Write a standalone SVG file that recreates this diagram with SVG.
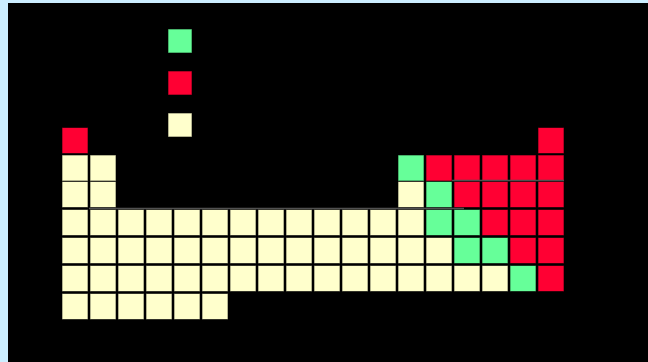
<svg xmlns="http://www.w3.org/2000/svg" width="648" height="362" viewBox="0 0 648 362">
<style>
.c{stroke:#000;stroke-opacity:0.6;stroke-width:1}
.y{fill:#ffffcc}
.r{fill:#ff0033}
.g{fill:#66ff99}
.sep{stroke:#505050;stroke-width:1.6;fill:none}
</style>
<defs>
<rect id="cell" width="26" height="26"/>
</defs>
<rect x="0" y="0" width="648" height="362" fill="#cceeff"/>
<rect x="8" y="3" width="640" height="359" fill="#000"/>
<g id="legend">
<rect class="c g" x="168" y="29" width="24" height="24"/>
<rect class="c r" x="168" y="71" width="24" height="24"/>
<rect class="c y" x="168" y="113" width="24" height="24"/>
</g>
<g id="row1">
<use href="#cell" class="c r" x="62" y="127.5"/>
<use href="#cell" class="c r" x="538" y="127.5"/>
</g>
<g id="row2">
<use href="#cell" class="c y" x="62" y="155"/>
<use href="#cell" class="c y" x="90" y="155"/>
<use href="#cell" class="c g" x="398" y="155"/>
<use href="#cell" class="c r" x="426" y="155"/>
<use href="#cell" class="c r" x="454" y="155"/>
<use href="#cell" class="c r" x="482" y="155"/>
<use href="#cell" class="c r" x="510" y="155"/>
<use href="#cell" class="c r" x="538" y="155"/>
</g>
<g id="row3">
<use href="#cell" class="c y" x="62" y="181.5"/>
<use href="#cell" class="c y" x="90" y="181.5"/>
<use href="#cell" class="c y" x="398" y="181.5"/>
<use href="#cell" class="c g" x="426" y="181.5"/>
<use href="#cell" class="c r" x="454" y="181.5"/>
<use href="#cell" class="c r" x="482" y="181.5"/>
<use href="#cell" class="c r" x="510" y="181.5"/>
<use href="#cell" class="c r" x="538" y="181.5"/>
</g>
<g id="row4">
<use href="#cell" class="c y" x="62" y="209.5"/>
<use href="#cell" class="c y" x="90" y="209.5"/>
<use href="#cell" class="c y" x="118" y="209.5"/>
<use href="#cell" class="c y" x="146" y="209.5"/>
<use href="#cell" class="c y" x="174" y="209.5"/>
<use href="#cell" class="c y" x="202" y="209.5"/>
<use href="#cell" class="c y" x="230" y="209.5"/>
<use href="#cell" class="c y" x="258" y="209.5"/>
<use href="#cell" class="c y" x="286" y="209.5"/>
<use href="#cell" class="c y" x="314" y="209.5"/>
<use href="#cell" class="c y" x="342" y="209.5"/>
<use href="#cell" class="c y" x="370" y="209.5"/>
<use href="#cell" class="c y" x="398" y="209.5"/>
<use href="#cell" class="c g" x="426" y="209.5"/>
<use href="#cell" class="c g" x="454" y="209.5"/>
<use href="#cell" class="c r" x="482" y="209.5"/>
<use href="#cell" class="c r" x="510" y="209.5"/>
<use href="#cell" class="c r" x="538" y="209.5"/>
</g>
<g id="row5">
<use href="#cell" class="c y" x="62" y="237.5"/>
<use href="#cell" class="c y" x="90" y="237.5"/>
<use href="#cell" class="c y" x="118" y="237.5"/>
<use href="#cell" class="c y" x="146" y="237.5"/>
<use href="#cell" class="c y" x="174" y="237.5"/>
<use href="#cell" class="c y" x="202" y="237.5"/>
<use href="#cell" class="c y" x="230" y="237.5"/>
<use href="#cell" class="c y" x="258" y="237.5"/>
<use href="#cell" class="c y" x="286" y="237.5"/>
<use href="#cell" class="c y" x="314" y="237.5"/>
<use href="#cell" class="c y" x="342" y="237.5"/>
<use href="#cell" class="c y" x="370" y="237.5"/>
<use href="#cell" class="c y" x="398" y="237.5"/>
<use href="#cell" class="c y" x="426" y="237.5"/>
<use href="#cell" class="c g" x="454" y="237.5"/>
<use href="#cell" class="c g" x="482" y="237.5"/>
<use href="#cell" class="c r" x="510" y="237.5"/>
<use href="#cell" class="c r" x="538" y="237.5"/>
</g>
<g id="row6">
<use href="#cell" class="c y" x="62" y="265.5"/>
<use href="#cell" class="c y" x="90" y="265.5"/>
<use href="#cell" class="c y" x="118" y="265.5"/>
<use href="#cell" class="c y" x="146" y="265.5"/>
<use href="#cell" class="c y" x="174" y="265.5"/>
<use href="#cell" class="c y" x="202" y="265.5"/>
<use href="#cell" class="c y" x="230" y="265.5"/>
<use href="#cell" class="c y" x="258" y="265.5"/>
<use href="#cell" class="c y" x="286" y="265.5"/>
<use href="#cell" class="c y" x="314" y="265.5"/>
<use href="#cell" class="c y" x="342" y="265.5"/>
<use href="#cell" class="c y" x="370" y="265.5"/>
<use href="#cell" class="c y" x="398" y="265.5"/>
<use href="#cell" class="c y" x="426" y="265.5"/>
<use href="#cell" class="c y" x="454" y="265.5"/>
<use href="#cell" class="c y" x="482" y="265.5"/>
<use href="#cell" class="c g" x="510" y="265.5"/>
<use href="#cell" class="c r" x="538" y="265.5"/>
</g>
<g id="row7">
<use href="#cell" class="c y" x="62" y="293.5"/>
<use href="#cell" class="c y" x="90" y="293.5"/>
<use href="#cell" class="c y" x="118" y="293.5"/>
<use href="#cell" class="c y" x="146" y="293.5"/>
<use href="#cell" class="c y" x="174" y="293.5"/>
<use href="#cell" class="c y" x="202" y="293.5"/>
</g>
<g id="connectors">
<line class="sep" x1="452" y1="180.5" x2="564" y2="180.5"/>
<line class="sep" x1="89" y1="208.5" x2="464" y2="208.5"/>
</g>
</svg>
